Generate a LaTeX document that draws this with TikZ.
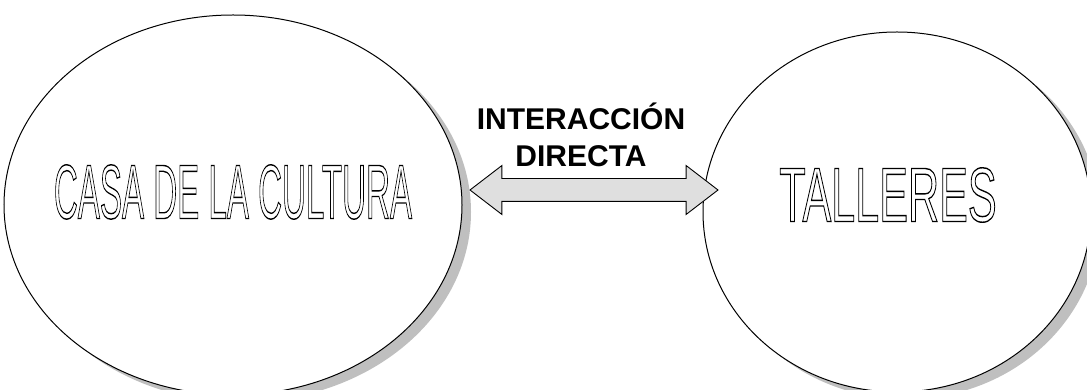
\documentclass[tikz,border=0pt]{standalone}
\usepackage{fontspec}
\newfontfamily\arial{Liberation Sans}
\usetikzlibrary{positioning,shapes.geometric,shapes.arrows,shadows}

% hollow (outlined) letters
\newcommand{\hueco}[1]{\special{pdf:literal direct 1 Tr 1.4 w}#1\special{pdf:literal direct 0 Tr}}

\tikzset{
  circulo/.style={ellipse, draw=black, line width=1pt, fill=white,
    drop shadow={shadow xshift=9pt, shadow yshift=-7pt, fill=gray!50, opacity=1}},
  rotulo/.style={font=\arial\fontsize{77}{80}\selectfont, inner sep=0pt},
  flecha/.style={double arrow, draw=black, line width=0.9pt, fill=gray!25,
    double arrow head extend=13pt, double arrow tip angle=75,
    minimum height=248pt, inner xsep=0pt, inner ysep=11pt},
  etiqueta/.style={font=\arial\bfseries\fontsize{30}{37}\selectfont, align=center}
}

\begin{document}
\begin{tikzpicture}[x=1pt,y=1pt]
  \useasboundingbox (0,0) rectangle (1087,390);

  % The two circles
  \node[circulo, minimum width=458pt, minimum height=380pt] (casa) at (233,185) {};
  \node[circulo, minimum width=388pt, minimum height=360pt] (talleres) at (897,178) {};

  % Their names
  \node[rotulo] (casatexto) at ([yshift=13pt]casa.center) {\scalebox{0.43}[1]{\hueco{CASA DE LA CULTURA}}};
  \node[rotulo] (tallerestexto) at ([yshift=17pt,xshift=-9pt]talleres.center) {\scalebox{0.56}[1]{\hueco{TALLERES}}};

  % Double arrow between them
  \node[flecha] (interaccion) at (594,200) {};
  \node[etiqueta, above=8pt of interaccion, xshift=-13pt] (interacciontexto) {INTERACCIÓN\\DIRECTA};
\end{tikzpicture}
\end{document}
